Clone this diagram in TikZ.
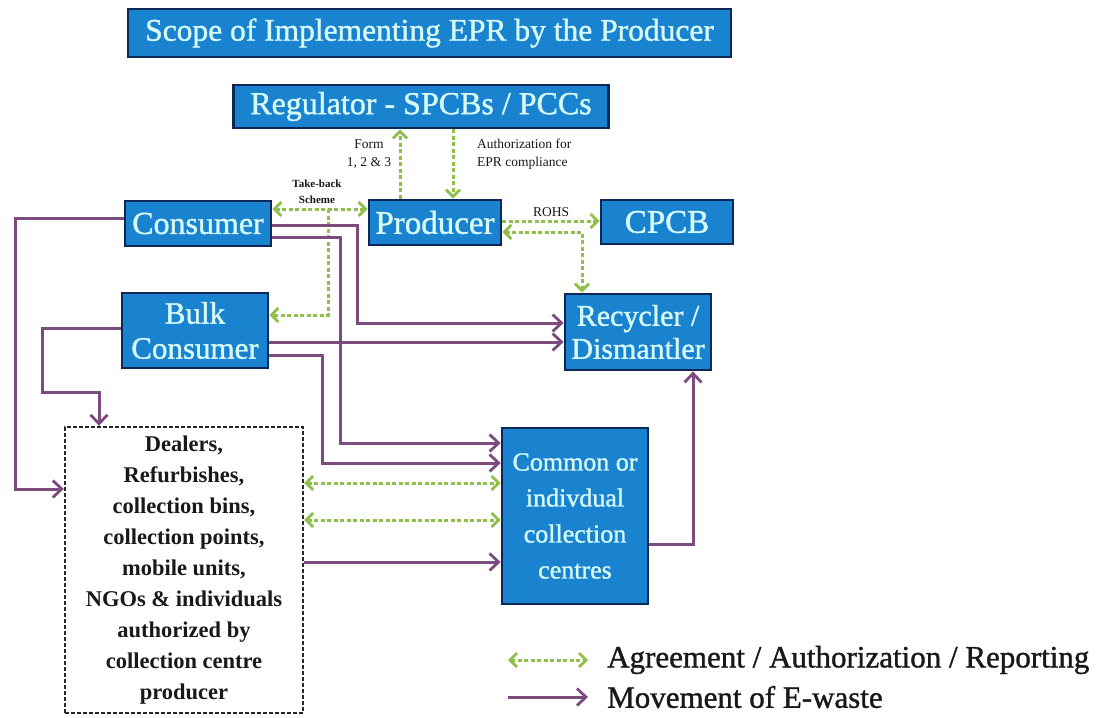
\documentclass[tikz,border=0pt]{standalone}
\usepackage{fontspec}
\setmainfont{Liberation Serif}
\newfontfamily\heavyserif[FakeBold=1.2]{Liberation Serif}
\usetikzlibrary{arrows.meta}
\definecolor{boxblue}{RGB}{26,131,207}
\definecolor{boxedge}{RGB}{12,40,88}
\definecolor{boxtext}{RGB}{214,250,250}
\definecolor{wastepurple}{RGB}{124,76,126}
\definecolor{agreegreen}{RGB}{143,192,74}
\definecolor{inktext}{RGB}{25,25,25}
\tikzset{
  bluebox/.style={draw=boxedge, line width=2.8pt, fill=boxblue, text=boxtext,
    inner sep=0pt, align=center},
  dealerbox/.style={draw=black!85, line width=2.4pt, dash pattern=on 4pt off 2pt,
    fill=white, inner sep=0pt, align=center, text=inktext},
  mv/.style={draw=wastepurple, line width=3pt,
    -{Straight Barb[length=9pt,width=17pt,line width=2.8pt]}},
  ag/.style={draw=agreegreen, line width=3pt, dash pattern=on 4pt off 2.5pt,
    arrows={{Straight Barb[length=7pt,width=14pt,line width=2.8pt]}-{Straight Barb[length=7pt,width=14pt,line width=2.8pt]}}},
  agone/.style={draw=agreegreen, line width=3pt, dash pattern=on 4pt off 2.5pt,
    -{Straight Barb[length=7pt,width=14pt,line width=2.8pt]}},
  smalllabel/.style={inner sep=0pt, text=inktext, font=\fontsize{13.5}{18.5}\selectfont},
  legendtext/.style={inner sep=0pt, anchor=west, text=inktext,
    font=\heavyserif\fontsize{31}{34}\selectfont}
}
\begin{document}
\begin{tikzpicture}[x=1pt, y=-1pt]
\useasboundingbox (0,0) rectangle (1118,717);
\fill[white] (0,0) rectangle (1118,717);

% heading
\node[bluebox, minimum width=603pt, minimum height=48pt,
  font=\heavyserif\fontsize{31.5}{34}\selectfont] (title) at (429.5,33)
  {Scope of Implementing EPR by the Producer};

% actors
\node[bluebox, minimum width=375pt, minimum height=43pt,
  font=\heavyserif\fontsize{32}{34}\selectfont] (reg) at (421,106.5) {Regulator - SPCBs / PCCs};
\node[bluebox, minimum width=146pt, minimum height=45pt,
  font=\heavyserif\fontsize{32}{34}\selectfont] (consumer) at (198,223.5) {Consumer};
\node[bluebox, minimum width=132pt, minimum height=45pt,
  font=\heavyserif\fontsize{33}{34}\selectfont] (producer) at (435,222.5) {Producer};
\node[bluebox, minimum width=132pt, minimum height=44pt,
  font=\heavyserif\fontsize{33}{34}\selectfont] (cpcb) at (667,222) {CPCB};
\node[bluebox, minimum width=146pt, minimum height=75pt,
  font=\heavyserif\fontsize{31}{35}\selectfont] (bulk) at (195,330.5) {Bulk\\Consumer};
\node[bluebox, minimum width=146pt, minimum height=76pt,
  font=\heavyserif\fontsize{30}{33}\selectfont] (recycler) at (638,332) {Recycler /\\Dismantler};
\node[bluebox, minimum width=146pt, minimum height=176pt,
  font=\heavyserif\fontsize{26}{36}\selectfont] (common) at (575,516)
  {Common or\\indivdual\\collection\\centres};
\node[dealerbox, minimum width=238pt, minimum height=286pt,
  font=\bfseries\fontsize{22.5}{31}\selectfont] (dealers) at (184,570)
  {Dealers,\\Refurbishes,\\collection bins,\\collection points,\\mobile units,\\NGOs \& individuals\\authorized by\\collection centre\\producer};

% agreement / authorization / reporting links
\coordinate (tb) at (328,209);
\draw[ag] (consumer.east|-0,209) -- (producer.west|-0,209);
\draw[agone] (tb) -- (328,315) -- (bulk.east|-0,315);
\draw[agone] (producer.north-|400,0) -- (reg.south-|400,0);
\draw[agone] (reg.south-|453,0) -- (producer.north-|453,0);
\draw[agone] (producer.east|-0,221) -- (cpcb.west|-0,221);
\draw[ag] (producer.east|-0,232) -- (582,232) -- (recycler.north-|582,0);
\draw[ag] (dealers.east|-0,483) -- (common.west|-0,483);
\draw[ag] (dealers.east|-0,520) -- (common.west|-0,520);

% movement of e-waste
\draw[mv] (consumer.west|-0,218) -- (15,218) -- (15,489) -- (dealers.west|-0,489);
\draw[mv] (consumer.east|-0,225) -- (357,225) -- (357,323) -- (recycler.west|-0,323);
\draw[mv] (consumer.east|-0,237) -- (340,237) -- (340,443) -- (common.west|-0,443);
\draw[mv] (bulk.east|-0,342) -- (recycler.west|-0,342);
\draw[mv] (bulk.east|-0,355) -- (322,355) -- (322,463) -- (common.west|-0,463);
\draw[mv] (bulk.west|-0,328) -- (42,328) -- (42,392) -- (99,392) -- (dealers.north-|99,0);
\draw[mv] (dealers.east|-0,562) -- (common.west|-0,562);
\draw[mv] (common.east|-0,544) -- (693,544) -- (recycler.south-|693,0);

% link labels
\node[smalllabel, align=center] (lform) at (369,154) {Form\\1, 2 \& 3};
\node[smalllabel, align=left, anchor=west] (lauth) at (477,154) {Authorization for\\EPR compliance};
\node[smalllabel, align=center, font=\bfseries\fontsize{11}{16}\selectfont] (ltake) at (317,192) {Take-back\\Scheme};
\node[smalllabel] (lrohs) at (551,212) {ROHS};

% key
\coordinate (k1a) at (508,660);
\coordinate (k1b) at (588,660);
\coordinate (k2a) at (508,697);
\coordinate (k2b) at (588,697);
\draw[ag] (k1a) -- (k1b);
\draw[mv] (k2a) -- (k2b);
\node[legendtext] (key1) at (607,660) {Agreement / Authorization / Reporting};
\node[legendtext] (key2) at (607,697) {Movement of E-waste};
\end{tikzpicture}
\end{document}
